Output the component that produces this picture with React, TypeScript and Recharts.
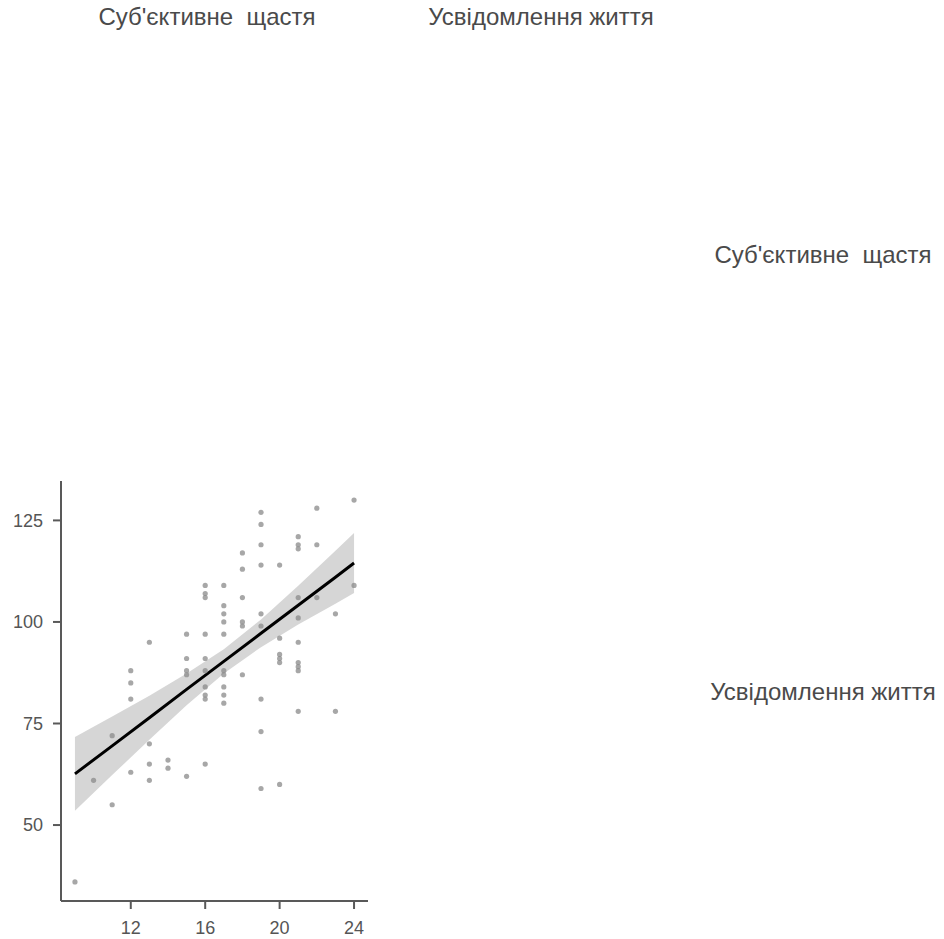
import React from "react";
import {
  ComposedChart,
  Scatter,
  Line,
  Area,
  XAxis,
  YAxis,
} from "recharts";

// Strip labels (variable names)
const varNames = ["Суб'єктивне  щастя", "Усвідомлення життя"];

// Observations: Суб'єктивне щастя (x) vs Усвідомлення життя (y)
const happiness = [
  9, 10, 11, 11, 12, 12, 12, 12, 13, 13, 13, 13, 14, 14,
  15, 15, 15, 15, 15,
  16, 16, 16, 16, 16, 16, 16, 16, 16, 16,
  17, 17, 17, 17, 17, 17, 17, 17, 17, 17,
  18, 18, 18, 18, 18, 18,
  19, 19, 19, 19, 19, 19, 19, 19, 19,
  20, 20, 20, 20, 20, 20,
  21, 21, 21, 21, 21, 21, 21, 21, 21, 21,
  22, 22, 22, 23, 23, 24, 24,
];
const meaning = [
  36, 61, 72, 55, 88, 85, 81, 63, 95, 70, 65, 61, 66, 64,
  97, 91, 88, 87, 62,
  109, 107, 106, 97, 91, 88, 84, 82, 81, 65,
  109, 104, 102, 100, 97, 88, 87, 84, 82, 80,
  117, 113, 106, 100, 99, 87,
  127, 124, 119, 114, 102, 99, 81, 73, 59,
  114, 96, 92, 91, 90, 60,
  121, 119, 118, 106, 101, 95, 90, 89, 88, 78,
  128, 119, 106, 102, 78, 130, 109,
];

// Linear fit with its confidence band
const fitX = [9, 11, 13, 15, 17, 19, 21, 23, 24];
const fitY = [62.6, 69.5, 76.4, 83.4, 90.3, 97.2, 104.1, 111.0, 114.5];
const fitLow = [53.5, 62.3, 71.0, 79.5, 87.3, 93.8, 99.4, 104.5, 107.1];
const fitHigh = [71.7, 76.7, 81.8, 87.3, 93.3, 100.6, 108.9, 117.5, 121.9];

const xTicks = [12, 16, 20, 24];
const yTicks = [50, 75, 100, 125];

const points = happiness.map((h, i) => ({ x: h, y: meaning[i] }));
const fitRows = fitX.map((x, i) => ({
  x,
  fit: fitY[i],
  band: [fitLow[i], fitHigh[i]],
}));

const FONT = "'Liberation Sans', Arial, sans-serif";
const axisColor = "#595959";

const stripStyle: React.CSSProperties = {
  position: "absolute",
  fontFamily: FONT,
  fontSize: 24,
  color: "#4a4a4a",
  whiteSpace: "pre",
  lineHeight: "28px",
  height: 28,
  width: 400,
  textAlign: "center",
};

export default function App() {
  return (
    <div
      style={{
        position: "absolute",
        left: 0,
        top: 0,
        width: 944,
        height: 939,
        background: "#ffffff",
        overflow: "hidden",
      }}
    >
      {/* column strips */}
      <div style={{ ...stripStyle, left: 7, top: 3 }}>{varNames[0]}</div>
      <div style={{ ...stripStyle, left: 341, top: 3 }}>{varNames[1]}</div>
      {/* row strips */}
      <div style={{ ...stripStyle, left: 623, top: 241 }}>{varNames[0]}</div>
      <div style={{ ...stripStyle, left: 623, top: 678 }}>{varNames[1]}</div>

      <div style={{ position: "absolute", left: 0, top: 0 }}>
        <ComposedChart
          width={400}
          height={939}
          data={fitRows}
          margin={{ top: 481, right: 32, bottom: 8, left: 11 }}
        >
          <XAxis
            dataKey="x"
            type="number"
            domain={[8.25, 24.75]}
            ticks={xTicks}
            allowDataOverflow
            height={30}
            tickSize={8}
            tickMargin={12}
            axisLine={{ stroke: axisColor, strokeWidth: 2 }}
            tickLine={{ stroke: axisColor, strokeWidth: 2 }}
            tick={{ fill: "#555555", fontSize: 18, fontFamily: FONT }}
          />
          <YAxis
            dataKey="y"
            type="number"
            domain={[31.3, 134.7]}
            ticks={yTicks}
            allowDataOverflow
            width={50}
            tickSize={8}
            tickMargin={10}
            axisLine={{ stroke: axisColor, strokeWidth: 2 }}
            tickLine={{ stroke: axisColor, strokeWidth: 2 }}
            tick={{ fill: "#555555", fontSize: 18, fontFamily: FONT }}
          />
          <Scatter
            data={points}
            fill="#8a8a8a"
            fillOpacity={0.75}
            isAnimationActive={false}
            shape={(p: any) => (
              <circle cx={p.cx} cy={p.cy} r={2.6} fill="#8a8a8a" fillOpacity={0.75} />
            )}
          />
          <Area
            dataKey="band"
            type="linear"
            stroke="none"
            fill="#999999"
            fillOpacity={0.4}
            isAnimationActive={false}
            activeDot={false}
          />
          <Line
            dataKey="fit"
            type="linear"
            stroke="#000000"
            strokeWidth={3}
            dot={false}
            activeDot={false}
            isAnimationActive={false}
          />
        </ComposedChart>
      </div>
    </div>
  );
}
